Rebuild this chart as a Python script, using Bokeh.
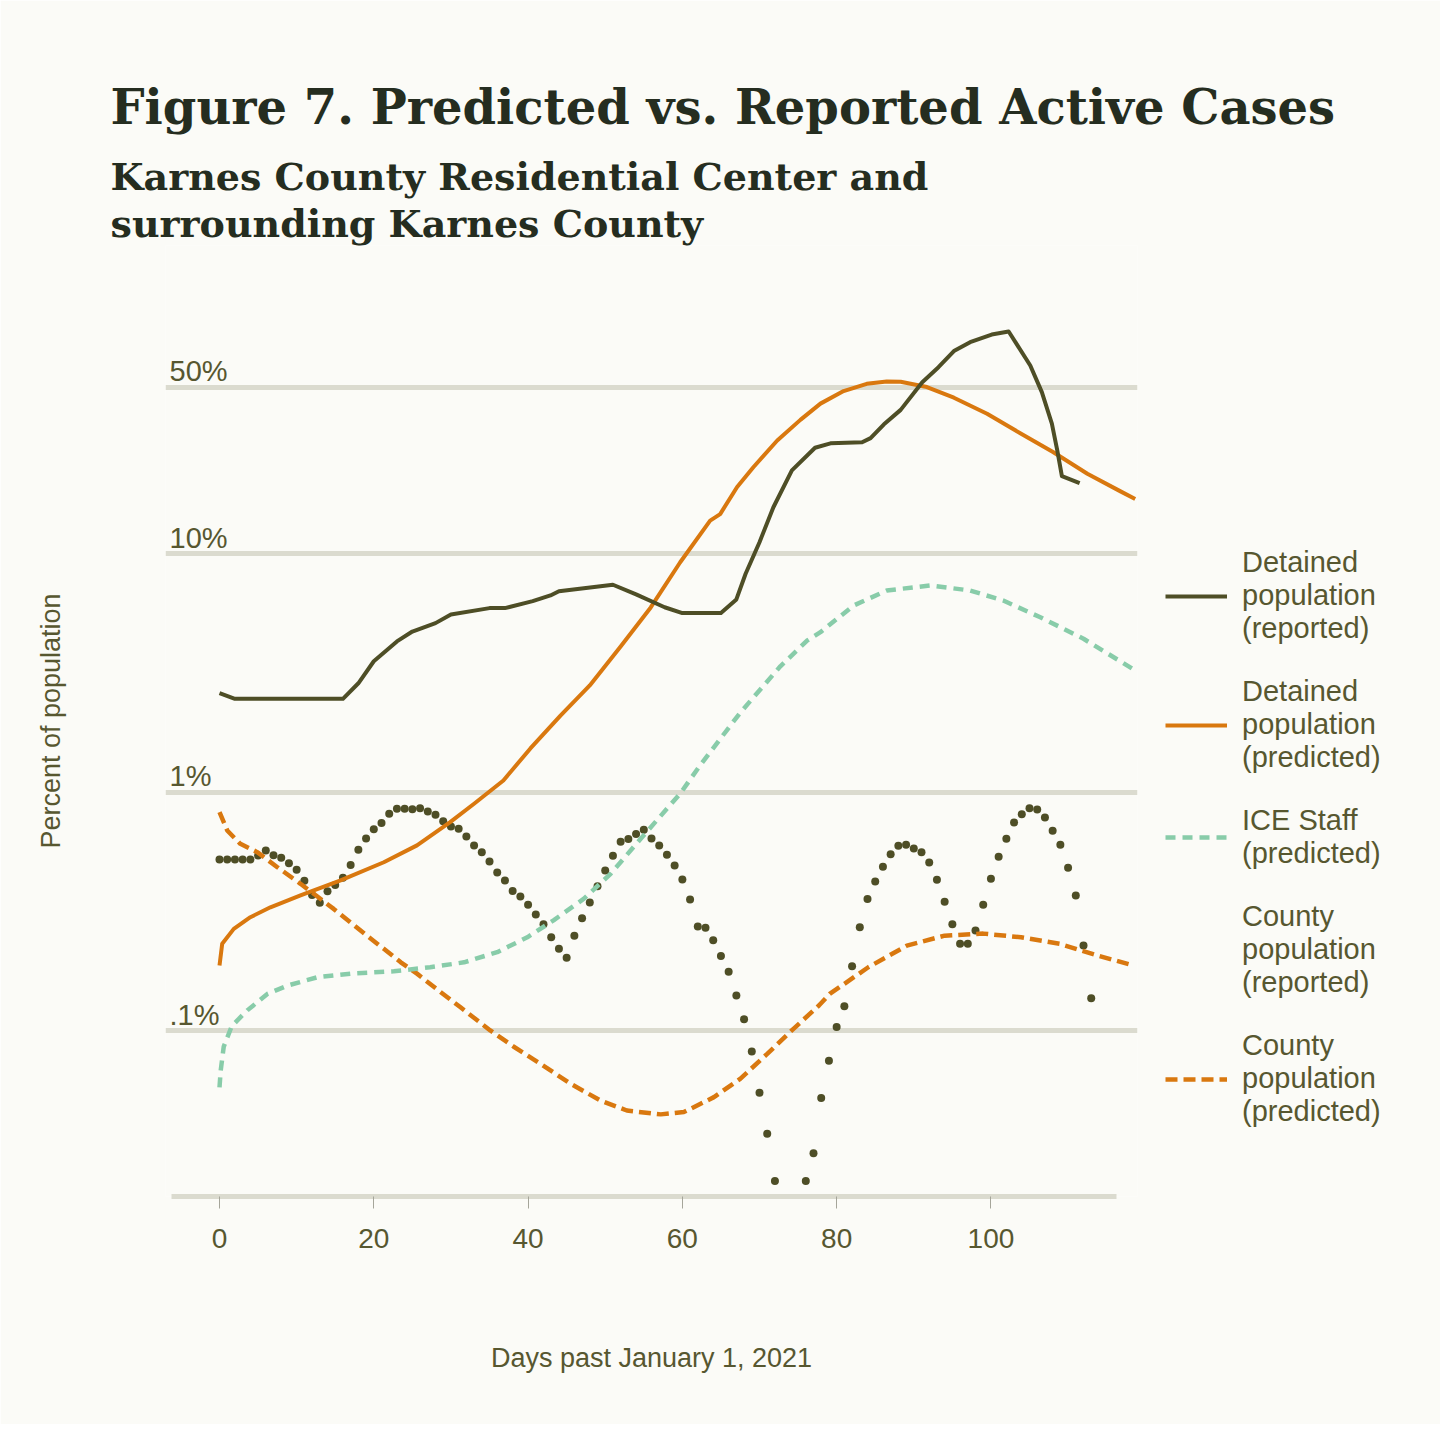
import math
from bokeh.plotting import figure
from bokeh.models import Range1d, FixedTicker, Legend, LegendItem, Title
from bokeh.core.properties import value
from bokeh.embed import file_html
from bokeh.resources import INLINE

# ---------------- data (percent of population) ----------------
det_rep_day = [0, 2, 16, 18, 20, 23, 25, 28, 30, 35, 37, 40.6, 42.9, 44, 51, 54, 57.7, 60, 65, 67,
               68.2, 70, 71.8, 74.2, 77.2, 79.2, 83.3, 84.4, 86.1, 88.3, 91.1, 93.2, 95.2, 97.3,
               100.1, 102.3, 105.1, 106.6, 107.9, 108.6, 109.2, 111.5]
det_rep_pct = [2.61, 2.47, 2.47, 2.87, 3.55, 4.30, 4.73, 5.13, 5.58, 5.93, 5.93, 6.34, 6.70, 6.98,
               7.43, 6.77, 5.98, 5.65, 5.65, 6.45, 8.26, 11.2, 15.7, 22.4, 27.9, 29.1, 29.4, 30.6,
               34.9, 40.2, 52.5, 60.7, 70.9, 77.3, 83.2, 85.7, 61.7, 47.7, 35.2, 27.2, 21.2, 19.8]

det_pred_day = [0, 0.35, 1.85, 4.0, 6.6, 10.5, 15.7, 21.3, 25.6, 29.9, 33.0, 36.8, 40.3, 44.2, 48.0,
                52.0, 55.9, 59.7, 63.6, 64.9, 67.1, 69.2, 72.3, 75.3, 77.9, 80.9, 83.9, 86.5, 88.3,
                91.7, 95.2, 99.5, 103.8, 108.1, 112.5, 116.8, 118.7]
det_pred_pct = [0.188, 0.232, 0.268, 0.300, 0.330, 0.370, 0.428, 0.510, 0.600, 0.751, 0.897, 1.123,
                1.53, 2.10, 2.81, 4.09, 5.97, 9.21, 13.8, 14.7, 19.1, 23.1, 29.9, 36.5, 42.7, 48.2,
                51.7, 52.9, 52.7, 50.1, 45.2, 38.7, 32.1, 26.7, 21.7, 18.3, 17.0]

staff_pred_day = [0, 0.15, 0.55, 1.6, 3.6, 6.2, 8.8, 12.7, 17, 22.6, 27.3, 31.7, 36, 39.9, 43.3,
                  47.2, 50.7, 54.6, 59.7, 62.3, 67.5, 72.7, 76.2, 77.9, 82.2, 86.5, 92.1, 97.3,
                  101.6, 106.4, 112, 118.3]
staff_pred_pct = [0.058, 0.068, 0.086, 0.105, 0.122, 0.143, 0.155, 0.168, 0.174, 0.178, 0.185,
                  0.194, 0.214, 0.247, 0.291, 0.358, 0.456, 0.640, 0.987, 1.30, 2.16, 3.38, 4.34,
                  4.70, 6.08, 7.03, 7.38, 7.03, 6.38, 5.43, 4.41, 3.31]

cty_rep_day = [d for d in range(0, 114) if d not in (73, 74, 75)]
cty_rep_pct = [0.524, 0.524, 0.524, 0.524, 0.524, 0.544, 0.571, 0.546, 0.532, 0.505,
               0.474, 0.426, 0.372, 0.345, 0.385, 0.409, 0.439, 0.496, 0.575, 0.641,
               0.702, 0.744, 0.814, 0.854, 0.854, 0.851, 0.859, 0.832, 0.806, 0.758,
               0.720, 0.705, 0.654, 0.600, 0.562, 0.514, 0.462, 0.428, 0.386, 0.366,
               0.338, 0.308, 0.280, 0.247, 0.221, 0.203, 0.251, 0.297, 0.346, 0.404,
               0.471, 0.543, 0.621, 0.638, 0.670, 0.698, 0.641, 0.600, 0.548, 0.494,
               0.432, 0.356, 0.274, 0.271, 0.240, 0.206, 0.177, 0.141, 0.112, 0.082,
               0.0551, 0.0371, 0.0235,
               0.0235, 0.0307, 0.0523, 0.0750, 0.104, 0.127, 0.187, 0.272, 0.358, 0.423,
               0.488, 0.551, 0.598, 0.604, 0.582, 0.562, 0.509, 0.431, 0.348, 0.280,
               0.232, 0.232, 0.264, 0.338, 0.435, 0.538, 0.640, 0.749, 0.811, 0.859,
               0.849, 0.785, 0.691, 0.604, 0.483, 0.370, 0.228, 0.137]

cty_pred_day = [0, 1.0, 2.7, 4.9, 7.5, 10.5, 14.8, 19.1, 21.3, 23.5, 25.6, 28.6, 31.2, 35.1, 38.1,
                41.6, 45.5, 49.4, 52.8, 57.2, 60.2, 64.1, 67.5, 71.0, 74.4, 77.7, 79.1, 84.1,
                89.1, 94.0, 99.0, 103.9, 108.9, 113.9, 118.5]
cty_pred_pct = [0.827, 0.693, 0.609, 0.562, 0.486, 0.414, 0.325, 0.251, 0.221, 0.194, 0.174,
                0.146, 0.126, 0.1005, 0.0861, 0.0729, 0.0601, 0.0511, 0.0464, 0.0447, 0.0457,
                0.0528, 0.0630, 0.0802, 0.1021, 0.1279, 0.143, 0.185, 0.228, 0.251, 0.256,
                0.247, 0.232, 0.207, 0.188]

x_ticks = [0, 20, 40, 60, 80, 100]
y_ticks = [50, 10, 1, 0.1]
y_tick_labels = ["50%", "10%", "1%", ".1%"]

legend_labels = ["Detained\npopulation\n(reported)",
                 "Detained\npopulation\n(predicted)",
                 "ICE Staff\n(predicted)",
                 "County\npopulation\n(reported)",
                 "County\npopulation\n(predicted)"]

title_text = "Figure 7. Predicted vs. Reported Active Cases"
subtitle_lines = ["Karnes County Residential Center and", "surrounding Karnes County"]
x_label = "Days past January 1, 2021"
y_label = "Percent of population"

# ---------------- style ----------------
BG = "#fbfbf7"
GRID = "#dbdbcf"
OLIVE = "#4e4e26"
ORANGE = "#d9780f"
MINT = "#88cca9"
TXT = "#575730"
TITLE = "#252d20"
SANS = "Liberation Sans"
SERIF = "DejaVu Serif"

PX_PER_DECADE = 238.5
X0, X1 = -7, 119
Y0 = 0.02023
FW = 972
ML, MT = 165, 245
FRAME_BOTTOM = 1196
FH = FRAME_BOTTOM - MT
Y1 = Y0 * 10 ** (FH / PX_PER_DECADE)
TOTAL = 1424


def px_x(px):
    return X0 + (px - ML) * (X1 - X0) / FW


p = figure(frame_width=FW, frame_height=FH,
           x_range=Range1d(X0, X1), y_range=Range1d(Y0, Y1), y_axis_type="log",
           output_backend="svg", toolbar_location=None,
           min_border_left=ML, min_border_top=MT,
           min_border_right=TOTAL - ML - FW, min_border_bottom=TOTAL - MT - FH,
           background_fill_color=BG, border_fill_color=BG, outline_line_color=None)

# y axis: only its title is shown
ya = p.yaxis[0]
ya.ticker = FixedTicker(ticks=[])
ya.axis_line_color = None
ya.major_tick_line_color = None
ya.minor_tick_line_color = None
ya.axis_label = y_label
ya.axis_label_text_font = SANS
ya.axis_label_text_font_size = "27px"
ya.axis_label_text_font_style = "normal"
ya.axis_label_text_color = TXT
ya.axis_label_standoff = 100

p.xgrid.visible = False
p.ygrid.ticker = FixedTicker(ticks=y_ticks)
p.ygrid.bounds = (px_x(167), px_x(1111))
p.ygrid.grid_line_color = GRID
p.ygrid.grid_line_width = 5
p.ygrid.minor_grid_line_color = None

xa = p.xaxis[0]
xa.ticker = FixedTicker(ticks=x_ticks)
xa.bounds = (px_x(171), px_x(1116))
xa.axis_line_color = GRID
xa.axis_line_width = 5
xa.major_tick_in = 0
xa.major_tick_out = 12
xa.major_tick_line_color = "#a5a59a"
xa.major_tick_line_width = 1
xa.minor_tick_line_color = None
xa.major_label_text_font = SANS
xa.major_label_text_font_size = "28px"
xa.major_label_text_color = TXT
xa.major_label_standoff = 20
xa.axis_label = x_label
xa.axis_label_text_font = SANS
xa.axis_label_text_font_size = "27px"
xa.axis_label_text_font_style = "normal"
xa.axis_label_text_color = TXT
xa.axis_label_standoff = 92

# y tick labels sitting on the grid lines
p.text(x=[px_x(169)] * len(y_ticks), y=y_ticks, text=y_tick_labels,
       text_font=value(SANS), text_font_size="29px", text_color=TXT,
       text_baseline="bottom", text_align="left")

# data
r4 = p.scatter(cty_rep_day, cty_rep_pct, size=8, fill_color=OLIVE, line_color=None)
r4_leg = p.line(x=[], y=[], line_color=OLIVE, line_width=7.5, line_dash="0 11", line_cap="round")
r5 = p.line(cty_pred_day, cty_pred_pct, line_color=ORANGE, line_width=4.5, line_dash="12 6")
r3 = p.line(staff_pred_day, staff_pred_pct, line_color=MINT, line_width=4.5, line_dash="10 7")
r2 = p.line(det_pred_day, det_pred_pct, line_color=ORANGE, line_width=4, line_join="round")
r1 = p.line(det_rep_day, det_rep_pct, line_color=OLIVE, line_width=4, line_join="round")

legend = Legend(items=[LegendItem(label=legend_labels[0], renderers=[r1]),
                       LegendItem(label=legend_labels[1], renderers=[r2]),
                       LegendItem(label=legend_labels[2], renderers=[r3]),
                       LegendItem(label=legend_labels[3], renderers=[r4_leg]),
                       LegendItem(label=legend_labels[4], renderers=[r5])],
                location=(28, 68), orientation="vertical",
                glyph_width=62, glyph_height=20, label_standoff=15, spacing=30,
                padding=0, margin=0, border_line_alpha=0, background_fill_alpha=0,
                label_text_font=SANS, label_text_font_size="29px", label_text_color=TXT)
p.add_layout(legend, "right")

# titles (nearest to the frame first)
for txt, size, so in [(subtitle_lines[1], "38px", 0),
                      (subtitle_lines[0], "38px", 0),
                      (title_text, "48px", 33)]:
    p.add_layout(Title(text=txt, align="left", offset=110 - ML, text_font=SERIF,
                       text_font_style="bold", text_font_size=size, text_color=TITLE,
                       standoff=so), "above")

open("out.html", "w").write(file_html(p, INLINE))
